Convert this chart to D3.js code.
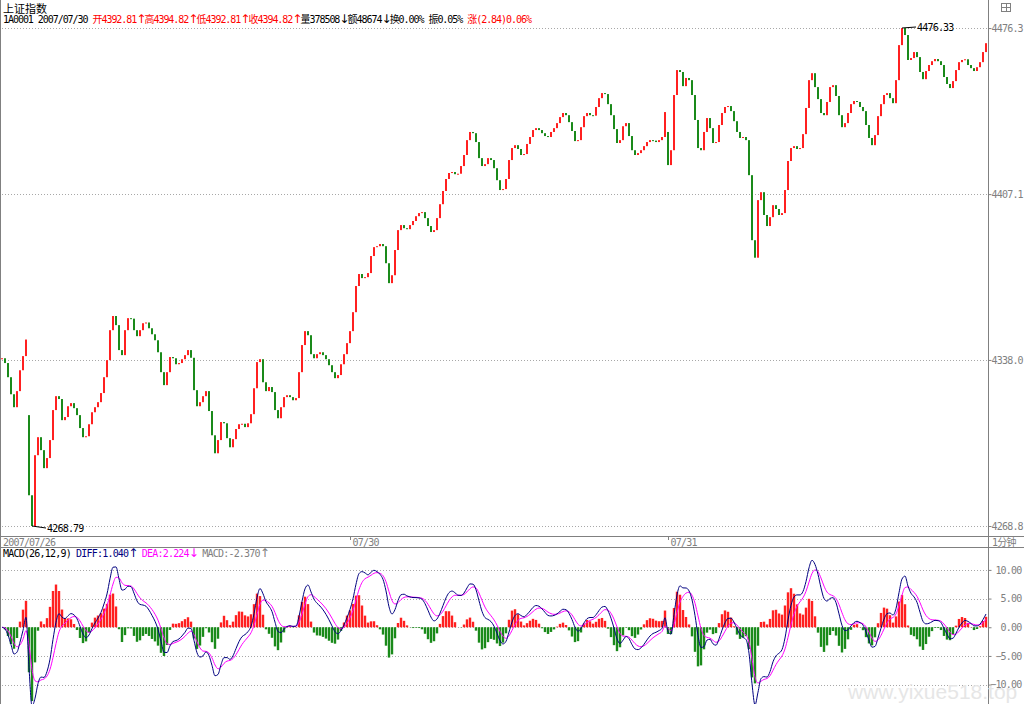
<!DOCTYPE html>
<html><head><meta charset="utf-8">
<script src="https://cdn.jsdelivr.net/npm/d3@7"></script>
<style>
body{margin:0;background:#fff;}
svg{display:block;}
</style></head><body>
<svg id="chart" width="1024" height="704"></svg>
<script>
// 1-minute closes sampled every few minutes, 2007/07/26 tail .. 2007/07/31
const closes = [
4338.7,4336.7,4330.8,4323.7,4318.3,4325.0,4333.7,4339.6,4346.5,4281.6,
4268.8,4298.3,4305.8,4300.4,4292.9,4297.1,4304.6,4317.1,4322.9,4321.7,
4312.9,4314.2,4318.7,4320.0,4317.9,4315.0,4309.6,4305.8,4306.2,4311.2,
4316.2,4318.3,4320.4,4324.2,4330.8,4337.9,4350.4,4356.3,4352.5,4342.1,
4340.0,4350.4,4355.4,4355.2,4350.4,4347.9,4350.4,4353.3,4353.6,4351.2,
4348.7,4346.2,4341.2,4332.9,4327.5,4332.9,4339.2,4338.7,4336.2,4336.7,
4338.3,4340.0,4342.1,4338.9,4325.4,4318.7,4320.4,4322.9,4325.0,4316.7,
4306.6,4299.1,4304.6,4312.1,4311.6,4305.4,4301.6,4305.0,4309.2,4311.2,
4311.4,4310.0,4311.6,4315.4,4326.2,4337.1,4338.3,4328.7,4325.0,4326.7,
4324.6,4317.1,4313.7,4318.3,4322.5,4323.3,4322.5,4321.2,4322.1,4332.9,
4344.2,4350.0,4348.3,4340.4,4338.7,4340.4,4341.2,4340.0,4338.3,4335.8,
4332.9,4330.4,4331.7,4336.2,4340.4,4345.0,4350.0,4357.9,4368.8,4373.8,
4372.1,4372.5,4374.2,4381.3,4385.0,4385.4,4386.3,4385.4,4378.3,4370.0,
4373.3,4383.8,4392.1,4394.2,4392.9,4392.5,4394.2,4395.9,4397.9,4399.2,
4399.6,4397.1,4393.8,4391.3,4392.1,4397.1,4402.9,4408.4,4413.4,4415.9,
4416.3,4415.4,4415.6,4418.8,4423.4,4429.6,4433.0,4432.5,4428.8,4422.1,
4418.8,4419.6,4422.1,4421.3,4417.9,4412.9,4408.8,4409.2,4413.4,4421.3,
4426.3,4427.5,4425.9,4423.4,4423.8,4428.0,4430.9,4433.8,4434.6,4433.8,
4432.5,4431.3,4430.9,4433.0,4434.6,4436.7,4439.2,4440.9,4440.0,4437.1,
4433.4,4429.2,4429.6,4435.0,4439.6,4440.9,4440.0,4439.8,4443.4,4447.1,
4449.2,4448.8,4444.6,4440.0,4434.2,4428.4,4429.6,4435.4,4436.7,4431.3,
4425.4,4423.4,4424.2,4425.4,4427.1,4428.8,4429.6,4429.4,4428.8,4429.6,
4430.9,4441.3,4419.2,4425.4,4448.4,4458.8,4458.0,4452.1,4455.5,4454.6,
4448.4,4438.0,4426.3,4425.4,4433.0,4438.8,4434.6,4428.4,4428.8,4435.9,
4440.9,4443.4,4443.8,4441.7,4437.5,4433.0,4430.5,4430.9,4429.6,4415.0,
4387.9,4380.6,4404.6,4407.9,4398.4,4393.8,4397.5,4402.5,4400.9,4398.4,
4399.2,4408.8,4420.9,4426.3,4427.1,4425.9,4426.3,4432.1,4443.0,4454.6,
4457.5,4451.7,4446.7,4440.9,4440.0,4445.5,4451.7,4452.5,4448.0,4440.0,
4435.0,4436.7,4440.9,4444.6,4445.9,4445.5,4443.4,4441.7,4435.9,4430.5,
4427.5,4431.7,4439.6,4444.6,4448.4,4449.2,4447.1,4445.0,4454.6,4469.2,
4476.3,4473.4,4463.0,4463.8,4466.3,4464.2,4458.0,4455.0,4458.4,4460.9,
4462.5,4463.4,4462.5,4460.9,4455.9,4453.0,4451.3,4454.2,4458.8,4462.1,
4463.0,4463.3,4460.9,4459.6,4458.4,4460.0,4462.1,4466.3,4470.0
];
// day opening gaps: [bar index, open price]
const gapOpens = [[9, 4315.0], [222, 4433.0]];
const dayStarts = [0, 116, 222];
const dayLabels = ["2007/07/26", "07/30", "07/31"];
const priceTicks = [4476.3, 4407.1, 4338.0, 4268.8];
const priceMax = 4476.33, priceMin = 4268.79;
const macdTicks = [10, 5, 0, -5, -10];
const macdParams = [26, 12, 9];

const infoSegs = [
  ["1A0001 2007/07/30 ", "#000"], ["开4392.81↑", "#f00"], ["高4394.82↑", "#f00"],
  ["低4392.81↑", "#f00"], ["收4394.82↑", "#f00"], ["量378508↓", "#000"],
  ["额48674↓", "#000"], ["换0.00% ", "#000"], ["振0.05% ", "#000"], ["涨(2.84)0.06%", "#f00"]
];
const macdSegs = [
  ["MACD(26,12,9) ", "#000"], ["DIFF:1.040↑ ", "#000080"], ["DEA:2.224↓ ", "#ff00ff"], ["MACD:-2.370↑", "#808080"]
];

// MACD(26,12,9) from the closes; one sampled bar stands for 2.25 one-minute bars
const barMinutes = 2.25;
function ema(arr, n) {
  const a = 1 - Math.pow(1 - 2 / (n + 1), barMinutes);
  let out = [], prev = arr[0];
  arr.forEach(v => { prev = prev + a * (v - prev); out.push(prev); });
  return out;
}
const eFast = ema(closes, macdParams[1]), eSlow = ema(closes, macdParams[0]);
const diff = closes.map((c, i) => eFast[i] - eSlow[i]);
const dea = ema(diff, macdParams[2]);
const macd = diff.map((d, i) => 2 * (d - dea[i]));

const svg = d3.select("#chart");
const gridCol = "#a8a8a8", axisCol = "#808080";
const mono = "'DejaVu Sans Mono', 'Noto Sans CJK SC', monospace";
const axisX = 988.5;

const x = d3.scaleLinear().domain([0, closes.length - 1]).range([2, 986]);
const y = d3.scaleLinear().domain([priceMin, priceMax]).range([526, 28]);
const ym = d3.scaleLinear().domain([-10, 10]).range([684.6, 569.9]);

// text with arrows drawn a bit larger, like the terminal's font
function monoText(sel, segs, size) {
  segs.forEach(s => {
    s[0].split(/([↑↓])/).filter(t => t.length).forEach(t => {
      const ts = sel.append("tspan").attr("fill", s[1]).text(t);
      if (t === "↑" || t === "↓") ts.attr("font-size", size + 2).attr("font-family", "'DejaVu Sans', sans-serif").attr("letter-spacing", -1.8);
    });
  });
}

// frame
svg.append("line").attr("x1", 0.5).attr("x2", 0.5).attr("y1", 0).attr("y2", 704).attr("stroke", axisCol);
svg.append("line").attr("x1", axisX).attr("x2", axisX).attr("y1", 0).attr("y2", 704).attr("stroke", axisCol);
[536.5, 547.5].forEach(v => svg.append("line").attr("x1", 0).attr("x2", 1024).attr("y1", v).attr("y2", v).attr("stroke", axisCol));

// header
svg.append("text").attr("x", 3).attr("y", 13).attr("font-family", "'Noto Sans CJK SC', sans-serif")
  .attr("font-size", 11).text("上证指数");
const info = svg.append("text").attr("x", 3).attr("y", 23).attr("font-family", mono)
  .attr("font-size", 10).attr("letter-spacing", -1.05);
monoText(info, infoSegs, 10);

// top-right icon
const ic = svg.append("g").attr("stroke", axisCol).attr("fill", "none");
ic.append("rect").attr("x", 1001.5).attr("y", 3.5).attr("width", 9).attr("height", 8);
ic.append("line").attr("x1", 1001.5).attr("x2", 1010.5).attr("y1", 7.5).attr("y2", 7.5);
ic.append("line").attr("x1", 1006.5).attr("x2", 1006.5).attr("y1", 3.5).attr("y2", 11.5);

// price grid + right axis
svg.selectAll(".pgrid").data(priceTicks).join("line").attr("class", "pgrid")
  .attr("x1", 2).attr("x2", axisX).attr("y1", d => Math.round(y(d)) + 0.5).attr("y2", d => Math.round(y(d)) + 0.5)
  .attr("stroke", gridCol).attr("stroke-dasharray", "1,2");
const pAx = svg.append("g").attr("transform", `translate(${axisX},0)`)
  .call(d3.axisRight(y).tickValues(priceTicks).tickSize(3).tickFormat(d3.format(".1f")));
pAx.select(".domain").remove();
pAx.selectAll("line").attr("stroke", axisCol);
pAx.selectAll("text").attr("x", 3).attr("fill", axisCol).attr("font-family", mono).attr("font-size", 10).attr("letter-spacing", -0.8);

// candles
const opens = closes.map((c, i) => i === 0 ? c : closes[i - 1]);
gapOpens.forEach(g => { opens[g[0]] = g[1]; });
svg.append("g").selectAll("rect").data(closes).join("rect")
  .attr("x", (d, i) => x(i) - 1)
  .attr("width", 2)
  .attr("y", (d, i) => y(Math.max(d, opens[i])))
  .attr("height", (d, i) => Math.max(1, Math.abs(y(d) - y(opens[i]))))
  .attr("fill", (d, i) => d >= opens[i] ? "#ff2020" : "#1a8a1a");

// hi / lo markers
const iMax = d3.maxIndex(closes), iMin = d3.minIndex(closes);
svg.append("path").attr("d", `M${x(iMax)},${y(priceMax)}L${x(iMax) + 14},${y(priceMax) - 1}`).attr("stroke", "#000").attr("fill", "none");
svg.append("text").attr("x", x(iMax) + 15).attr("y", y(priceMax) + 3).attr("font-family", mono).attr("font-size", 10)
  .attr("letter-spacing", -0.8).text(priceMax.toFixed(2));
svg.append("path").attr("d", `M${x(iMin)},${y(priceMin)}L${x(iMin) + 14},${y(priceMin) + 2}`).attr("stroke", "#000").attr("fill", "none");
svg.append("text").attr("x", x(iMin) + 15).attr("y", y(priceMin) + 6).attr("font-family", mono).attr("font-size", 10)
  .attr("letter-spacing", -0.8).text(priceMin.toFixed(2));

// date strip
dayStarts.forEach((s, k) => {
  const xx = k === 0 ? 3 : Math.round(x(s)) + 0.5;
  if (k > 0) svg.append("line").attr("x1", xx).attr("x2", xx).attr("y1", 537).attr("y2", 540).attr("stroke", axisCol);
  svg.append("text").attr("x", k === 0 ? 3 : xx + 2).attr("y", 545.5).attr("fill", axisCol).attr("font-family", mono)
    .attr("font-size", 10).attr("letter-spacing", -0.8).text(dayLabels[k]);
});
svg.append("text").attr("x", 992).attr("y", 545.5).attr("fill", axisCol).attr("font-family", mono)
  .attr("font-size", 10).attr("letter-spacing", -0.8).text("1分钟");

// MACD panel
const leg = svg.append("text").attr("x", 3).attr("y", 557).attr("font-family", mono)
  .attr("font-size", 10).attr("letter-spacing", -0.8);
monoText(leg, macdSegs, 10);

svg.selectAll(".mgrid").data(macdTicks).join("line").attr("class", "mgrid")
  .attr("x1", 2).attr("x2", axisX).attr("y1", d => Math.round(ym(d)) + 0.5).attr("y2", d => Math.round(ym(d)) + 0.5)
  .attr("stroke", gridCol).attr("stroke-dasharray", "1,2");
const mAx = svg.append("g").attr("transform", `translate(${axisX},0)`)
  .call(d3.axisRight(ym).tickValues(macdTicks).tickSize(3).tickFormat(d3.format(".2f")));
mAx.select(".domain").remove();
mAx.selectAll("line").attr("stroke", axisCol);
mAx.selectAll("text").attr("x", 33).attr("text-anchor", "end").attr("fill", axisCol)
  .attr("font-family", mono).attr("font-size", 10).attr("letter-spacing", -0.8);

svg.append("g").selectAll("rect").data(macd).join("rect")
  .attr("x", (d, i) => x(i) - 1.2).attr("width", 2.4)
  .attr("y", d => ym(Math.max(0, d))).attr("height", d => Math.abs(ym(d) - ym(0)))
  .attr("fill", d => d >= 0 ? "#ff2020" : "#1a8a1a");

const ln = d3.line().x((d, i) => x(i)).y(d => ym(d)).curve(d3.curveMonotoneX);
svg.append("path").datum(dea).attr("d", ln).attr("fill", "none").attr("stroke", "#ff00ff").attr("stroke-width", 1);
svg.append("path").datum(diff).attr("d", ln).attr("fill", "none").attr("stroke", "#000080").attr("stroke-width", 1);

// watermark
svg.append("text").attr("x", 848).attr("y", 699).attr("font-family", "Arial, 'Liberation Sans', sans-serif")
  .attr("font-size", 21).attr("fill", "#e6e6e6").text("www.yixue518.top");
</script>
</body></html>
